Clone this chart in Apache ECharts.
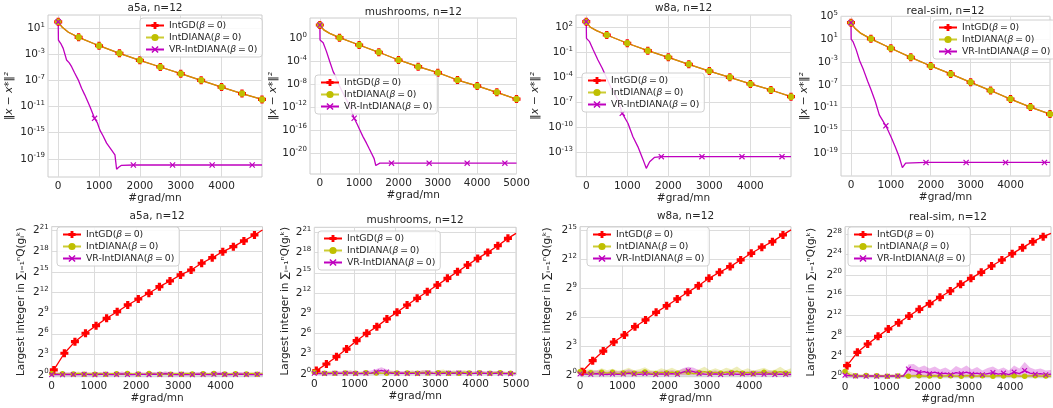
<!DOCTYPE html>
<html>
<head>
<meta charset="utf-8">
<script src="https://cdn.jsdelivr.net/npm/echarts@6/dist/echarts.min.js"></script>
<style>
html, body { margin: 0; background: #fff; }
#chart { width: 1053px; height: 408px; }
</style>
</head>
<body>
<div id="chart"></div>
<script>
var FONT = 'DejaVu Sans';
var TXT = '#262626';

var titles = ['a5a, n=12', 'mushrooms, n=12', 'w8a, n=12', 'real-sim, n=12'];
var names = ['IntGD(β=0)', 'IntDIANA(β=0)', 'VR-IntDIANA(β=0)'];
var lastX = [4990, 5000, 4990, 4990];

// ---- top row: log10 of ||x - x*||^2 (IntGD and IntDIANA overlap) ----
var topX = [0, 100, 250, 500, 1000, 1500, 2000, 2500, 3000, 3500, 4000, 4500];
var a5aErr = [2.0, 1.15, 0.4, -0.38, -1.67, -2.83, -3.9, -4.93, -5.96, -6.97, -8.0, -9.0, -9.9];
var mushErr = [2.36, 1.5, 0.9, 0.14, -1.14, -2.41, -3.76, -4.93, -5.98, -7.26, -8.3, -9.41, -10.6];
var w8aErr = [2.67, 2.0, 1.6, 1.08, 0.09, -0.8, -1.59, -2.43, -3.23, -3.98, -4.78, -5.5, -6.3];
var realErr = [3.88, 2.9, 2.0, 1.05, -0.6, -2.18, -3.7, -5.1, -6.56, -8.0, -9.5, -10.9, -12.13];

var a5aVrX = [0, 5, 60, 122, 205, 270, 328, 400, 490, 573, 650, 776, 890, 960, 1021, 1100, 1185, 1290, 1389, 1430, 1480, 1550, 1840, 2800, 3770, 4750, 4990];
var a5aVrErr = [2.0, -0.8, -1.3, -2.07, -3.86, -4.3, -4.88, -5.8, -6.9, -8.2, -9.2, -11.0, -12.8, -13.5, -14.6, -15.5, -16.6, -17.5, -18.4, -20.6, -20.3, -20.0, -19.95, -19.95, -19.95, -19.95, -19.95];
var a5aVrMarks = [0, 890, 1840, 2800, 3770, 4750];

var mushVrX = [0, 5, 85, 170, 254, 339, 400, 466, 550, 636, 700, 763, 873, 950, 1017, 1100, 1186, 1250, 1313, 1380, 1423, 1470, 1525, 1822, 2780, 3746, 4704, 5000];
var mushVrErr = [2.36, -0.26, -0.73, -2.3, -4.06, -5.8, -6.6, -7.8, -9.0, -10.2, -11.0, -11.9, -13.95, -15.0, -16.0, -17.2, -18.3, -19.2, -20.07, -21.0, -22.2, -22.0, -21.8, -21.8, -21.8, -21.8, -21.8, -21.8];
var mushVrMarks = [0, 873, 1822, 2780, 3746, 4704];

var w8aVrX = [0, 5, 81, 163, 285, 390, 488, 610, 700, 772, 878, 1016, 1138, 1260, 1382, 1463, 1545, 1667, 1829, 2820, 3795, 4771, 4990];
var w8aVrErr = [2.67, 0.68, 0.28, -0.63, -1.91, -2.9, -3.98, -5.3, -6.0, -6.7, -8.29, -9.48, -11.1, -12.3, -13.8, -14.87, -14.08, -13.55, -13.47, -13.47, -13.47, -13.47, -13.47];
var w8aVrMarks = [0, 878, 1829, 2820, 3795, 4771];

var realVrX = [0, 5, 50, 132, 215, 314, 421, 503, 610, 710, 875, 1000, 1107, 1206, 1289, 1371, 1881, 2887, 3876, 4851, 4990];
var realVrErr = [3.88, 1.0, 0.58, -0.88, -2.75, -4.38, -6.42, -7.88, -9.93, -12.26, -14.18, -16.05, -17.8, -19.55, -21.5, -20.7, -20.6, -20.6, -20.6, -20.6, -20.6];
var realVrMarks = [0, 875, 1881, 2887, 3876, 4851];

var a5aTicks = [1, -3, -7, -11, -15, -19];
var mushTicks = [0, -4, -8, -12, -16, -20];
var w8aTicks = [2, -1, -4, -7, -10, -13];
var realTicks = [5, 1, -3, -7, -11, -15, -19];

// ---- bottom row: log2 of the largest integer ----
var redX = [0, 50, 300, 550, 800, 1050, 1300, 1550, 1800, 2050, 2300, 2550, 2800, 3050, 3300, 3550, 3800, 4050, 4300, 4550, 4800];
var a5aRed = [0, 0.73, 3.16, 4.85, 6.07, 7.18, 8.25, 9.21, 10.19, 11.06, 11.89, 12.85, 13.68, 14.56, 15.28, 16.26, 17.07, 17.95, 18.68, 19.51, 20.38, 21.1];
var mushRed = [0.2, 0.5, 1.48, 2.57, 3.7, 4.94, 6.03, 7.02, 8.15, 9.14, 10.23, 11.22, 12.2, 13.19, 14.18, 15.17, 16.16, 17.14, 18.03, 19.02, 20.11, 20.85];
var w8aRed = [0.2, 0.35, 1.49, 2.49, 3.43, 4.16, 5.02, 5.72, 6.51, 7.2, 7.9, 8.59, 9.28, 10.04, 10.67, 11.26, 11.95, 12.64, 13.27, 13.85, 14.55, 15.07];
var realRed = [1.8, 2.16, 4.79, 6.43, 7.93, 9.38, 10.62, 11.93, 13.25, 14.36, 15.61, 16.85, 18.16, 19.34, 20.52, 21.77, 22.95, 24.2, 25.38, 26.56, 27.54, 28.2];

var noiseX = [0, 128, 256, 384, 512, 640, 768, 896, 1024, 1152, 1280, 1408, 1536, 1664, 1792, 1920, 2048, 2176, 2304, 2432, 2560, 2688, 2816, 2944, 3072, 3200, 3328, 3456, 3584, 3712, 3840, 3968, 4096, 4224, 4352, 4480, 4608, 4736, 4864, 4992];

var a5aDiana = [0.2, 0.12, 0.18, 0.1, 0.15, 0.22, 0.1, 0.16, 0.12, 0.2, 0.1, 0.14, 0.18, 0.1, 0.22, 0.12, 0.15, 0.1, 0.2, 0.14, 0.1, 0.18, 0.12, 0.16, 0.1, 0.2, 0.13, 0.1, 0.17, 0.12, 0.2, 0.1, 0.15, 0.12, 0.18, 0.1, 0.14, 0.2, 0.12, 0.16];
var a5aDianaHi = [0.45, 0.35, 0.4, 0.3, 0.38, 0.5, 0.3, 0.4, 0.35, 0.45, 0.3, 0.36, 0.42, 0.3, 0.5, 0.34, 0.38, 0.3, 0.46, 0.36, 0.3, 0.42, 0.34, 0.4, 0.3, 0.46, 0.35, 0.3, 0.4, 0.34, 0.46, 0.3, 0.38, 0.34, 0.42, 0.3, 0.36, 0.46, 0.34, 0.4];
var a5aVr = [0.05, 0.08, 0.04, 0.1, 0.06, 0.05, 0.12, 0.06, 0.04, 0.08, 0.1, 0.05, 0.07, 0.15, 0.06, 0.04, 0.1, 0.08, 0.05, 0.12, 0.06, 0.2, 0.08, 0.05, 0.1, 0.06, 0.04, 0.12, 0.08, 0.05, 0.1, 0.18, 0.06, 0.05, 0.08, 0.12, 0.06, 0.04, 0.1, 0.06];
var a5aVrHi = [0.3, 0.35, 0.28, 0.4, 0.32, 0.3, 0.45, 0.32, 0.28, 0.36, 0.4, 0.3, 0.34, 0.5, 0.32, 0.28, 0.4, 0.36, 0.3, 0.45, 0.32, 0.55, 0.36, 0.3, 0.4, 0.32, 0.28, 0.45, 0.36, 0.3, 0.4, 0.52, 0.32, 0.3, 0.36, 0.45, 0.32, 0.28, 0.4, 0.32];

var mushDiana = [0.25, 0.15, 0.1, 0.18, 0.12, 0.1, 0.15, 0.2, 0.1, 0.12, 0.18, 0.1, 0.15, 0.12, 0.1, 0.2, 0.14, 0.1, 0.16, 0.2, 0.12, 0.25, 0.15, 0.1, 0.2, 0.28, 0.12, 0.2, 0.1, 0.25, 0.15, 0.1, 0.18, 0.12, 0.1, 0.15, 0.2, 0.1, 0.12, 0.1];
var mushDianaHi = [0.6, 0.4, 0.3, 0.45, 0.35, 0.3, 0.4, 0.5, 0.3, 0.35, 0.45, 0.3, 0.4, 0.35, 0.3, 0.5, 0.4, 0.3, 0.42, 0.55, 0.35, 0.6, 0.42, 0.3, 0.55, 0.65, 0.35, 0.55, 0.3, 0.6, 0.42, 0.3, 0.48, 0.35, 0.3, 0.4, 0.5, 0.3, 0.35, 0.3];
var mushVr = [0.1, 0.06, 0.08, 0.05, 0.12, 0.08, 0.1, 0.15, 0.08, 0.06, 0.1, 0.12, 0.3, 0.55, 0.3, 0.1, 0.08, 0.12, 0.06, 0.1, 0.08, 0.12, 0.15, 0.08, 0.06, 0.1, 0.12, 0.08, 0.15, 0.1, 0.06, 0.08, 0.12, 0.1, 0.06, 0.1, 0.08, 0.06, 0.05, 0.06];
var mushVrHi = [0.45, 0.35, 0.4, 0.3, 0.45, 0.4, 0.42, 0.5, 0.4, 0.35, 0.42, 0.5, 0.75, 1.0, 0.7, 0.45, 0.4, 0.45, 0.35, 0.42, 0.4, 0.5, 0.55, 0.4, 0.35, 0.45, 0.5, 0.4, 0.55, 0.45, 0.35, 0.4, 0.5, 0.42, 0.35, 0.42, 0.4, 0.35, 0.3, 0.3];

var w8aDiana = [0.35, 0.2, 0.25, 0.15, 0.3, 0.2, 0.28, 0.15, 0.22, 0.3, 0.18, 0.25, 0.32, 0.2, 0.15, 0.28, 0.22, 0.3, 0.2, 0.25, 0.3, 0.15, 0.25, 0.35, 0.2, 0.28, 0.18, 0.3, 0.25, 0.4, 0.2, 0.28, 0.15, 0.25, 0.3, 0.2, 0.22, 0.35, 0.2, 0.3];
var w8aDianaHi = [0.8, 0.55, 0.6, 0.45, 0.7, 0.5, 0.65, 0.45, 0.55, 0.75, 0.5, 0.6, 0.8, 0.5, 0.45, 0.7, 0.55, 0.75, 0.5, 0.6, 0.7, 0.45, 0.6, 0.85, 0.5, 0.7, 0.5, 0.75, 0.6, 0.9, 0.5, 0.7, 0.45, 0.6, 0.75, 0.5, 0.55, 0.85, 0.5, 0.7];
var w8aVr = [0.12, 0.1, 0.08, 0.15, 0.1, 0.06, 0.12, 0.08, 0.1, 0.2, 0.1, 0.08, 0.15, 0.1, 0.06, 0.12, 0.1, 0.15, 0.08, 0.3, 0.45, 0.35, 0.15, 0.1, 0.08, 0.12, 0.06, 0.1, 0.15, 0.08, 0.1, 0.06, 0.12, 0.1, 0.08, 0.12, 0.06, 0.1, 0.08, 0.06];
var w8aVrHi = [0.5, 0.45, 0.4, 0.5, 0.42, 0.35, 0.48, 0.4, 0.42, 0.6, 0.42, 0.4, 0.5, 0.42, 0.35, 0.48, 0.42, 0.5, 0.4, 0.7, 0.85, 0.75, 0.5, 0.42, 0.4, 0.48, 0.35, 0.42, 0.5, 0.4, 0.42, 0.35, 0.48, 0.42, 0.4, 0.48, 0.35, 0.42, 0.4, 0.35];

var realDiana = [1.0, 0.35, 0.2, 0.15, 0.25, 0.1, 0.2, 0.15, 0.1, 0.2, 0.12, 0.18, 0.1, 0.15, 0.2, 0.1, 0.12, 0.18, 0.1, 0.15, 0.2, 0.12, 0.1, 0.18, 0.15, 0.1, 0.2, 0.12, 0.1, 0.18, 0.15, 0.1, 0.2, 0.12, 0.1, 0.15, 0.18, 0.1, 0.12, 0.1];
var realDianaHi = [1.6, 0.9, 0.6, 0.5, 0.6, 0.4, 0.55, 0.45, 0.4, 0.55, 0.4, 0.5, 0.4, 0.45, 0.55, 0.4, 0.42, 0.5, 0.4, 0.45, 0.55, 0.42, 0.4, 0.5, 0.45, 0.4, 0.55, 0.42, 0.4, 0.5, 0.45, 0.4, 0.55, 0.42, 0.4, 0.45, 0.5, 0.4, 0.42, 0.4];
var realVr = [0.3, 0.2, 0.15, 0.12, 0.1, 0.15, 0.1, 0.12, 0.1, 0.15, 0.12, 0.1, 1.5, 1.3, 0.8, 1.0, 0.6, 0.9, 0.5, 0.7, 0.4, 0.8, 0.6, 0.9, 0.5, 0.7, 0.4, 0.6, 0.8, 0.5, 0.7, 0.4, 0.9, 0.6, 1.2, 0.7, 0.5, 0.6, 0.4, 0.5];
var realVrHi = [0.6, 0.5, 0.4, 0.35, 0.3, 0.4, 0.3, 0.35, 0.3, 0.4, 0.35, 0.3, 2.4, 2.5, 1.8, 2.2, 1.6, 2.0, 1.4, 1.8, 1.2, 2.1, 1.6, 2.2, 1.4, 1.9, 1.2, 1.7, 2.0, 1.4, 1.8, 1.2, 2.2, 1.6, 2.9, 1.8, 1.4, 1.6, 1.2, 1.3];

var a5aQTicks = [0, 3, 6, 9, 12, 15, 18, 21];
var mushQTicks = [0, 3, 6, 9, 12, 15, 18, 21];
var w8aQTicks = [0, 3, 6, 9, 12, 15];
var realQTicks = [0, 4, 8, 12, 16, 20, 24, 28];

var xTicks = [0, 1000, 2000, 3000, 4000];
var mushXTicks = [0, 1000, 2000, 3000, 4000, 5000];

// ---- layout ----
var grids = [
  { left: 48, top: 15, width: 214, height: 162 },
  { left: 310, top: 18, width: 206.5, height: 156 },
  { left: 576, top: 15, width: 215, height: 161.7 },
  { left: 841, top: 16.3, width: 209, height: 159.7 },
  { left: 51.7, top: 226.7, width: 210.8, height: 150 },
  { left: 314.3, top: 227.3, width: 201.7, height: 147.7 },
  { left: 580, top: 226.7, width: 211, height: 150 },
  { left: 845, top: 226.7, width: 206, height: 151 }
];
var yRange = [[-21.79, 3.04], [-23.69, 3.58], [-15.87, 3.47], [-22.97, 5.0],
              [-0.25, 21.58], [-0.15, 21.75], [-0.17, 15.4], [-0.2, 29.5]];
var titleY = [8.3, 12.7, 8.3, 11, 216, 220, 216.7, 217];
var yNameGap = [33, 30, 35, 30, 25, 24, 27, 28];
var legendPos = [[140, 18], [315, 75], [582, 73], [933, 20], [57, 227], [318, 231], [587, 227], [848, 227]];

var RED = '#ff0000', YEL = '#bfbf00', MAG = '#bf00bf';
var PLUS = 'path://M3,0H7V3H10V7H7V10H3V7H0V3H3Z';
var CROSS = 'path://M0,1.4L1.4,0L5,3.6L8.6,0L10,1.4L6.4,5L10,8.6L8.6,10L5,6.4L1.4,10L0,8.6L3.6,5Z';

var topErr = [a5aErr, mushErr, w8aErr, realErr];
var vrX = [a5aVrX, mushVrX, w8aVrX, realVrX];
var vrErr = [a5aVrErr, mushVrErr, w8aVrErr, realVrErr];
var vrMarks = [a5aVrMarks, mushVrMarks, w8aVrMarks, realVrMarks];
var topTicks = [a5aTicks, mushTicks, w8aTicks, realTicks];
var botRed = [a5aRed, mushRed, w8aRed, realRed];
var botDiana = [a5aDiana, mushDiana, w8aDiana, realDiana];
var botDianaHi = [a5aDianaHi, mushDianaHi, w8aDianaHi, realDianaHi];
var botVr = [a5aVr, mushVr, w8aVr, realVr];
var botVrHi = [a5aVrHi, mushVrHi, w8aVrHi, realVrHi];
var botTicks = [a5aQTicks, mushQTicks, w8aQTicks, realQTicks];

function pts(xs, ys, isMark) {
  return xs.map(function (x, i) {
    var item = { value: [x, ys[i]] };
    if (!isMark(x, i)) item.symbol = 'none';
    return item;
  });
}

function lineSer(p, name, data, color, symbol, size, extra) {
  var s = {
    type: 'line', name: name, xAxisIndex: p, yAxisIndex: p,
    data: data, symbol: symbol, symbolSize: size, showAllSymbol: true,
    itemStyle: { color: color }, lineStyle: { color: color, width: 1.3 },
    emphasis: { disabled: true }, silent: true
  };
  for (var k in extra) s[k] = extra[k];
  return s;
}

function bandSer(p, hi, color) {
  return {
    type: 'line', name: 'band', xAxisIndex: p, yAxisIndex: p,
    data: noiseX.map(function (x, i) { return [x, hi[i]]; }),
    symbol: 'none', lineStyle: { width: 0, opacity: 0 },
    areaStyle: { color: color, opacity: 0.28 }, silent: true
  };
}

var series = [];
[0, 1, 2, 3].forEach(function (p) {
  var tx = topX.concat([lastX[p]]);
  var mk500 = function (x, i) { return x % 500 === 0 || i === tx.length - 1; };
  series.push(lineSer(p, names[0], pts(tx, topErr[p], mk500), RED, PLUS, 8, {}));
  series.push(lineSer(p, names[1], pts(tx, topErr[p], mk500), YEL, 'circle', 6.5,
    { lineStyle: { color: YEL, width: 1.3, opacity: 0.8 } }));
  var marks = vrMarks[p];
  series.push(lineSer(p, names[2], pts(vrX[p], vrErr[p], function (x) { return marks.indexOf(x) >= 0; }), MAG, CROSS, 6, {}));

  var b = p + 4;
  var rx = redX.concat([lastX[p]]);
  series.push(lineSer(b, names[0], pts(rx, botRed[p], function (x, i) { return i > 0 && i < rx.length - 1; }), RED, PLUS, 8, {}));
  var even = function (x, i) { return i % 2 === 0; };
  series.push(lineSer(b, names[1], pts(noiseX, botDiana[p], even), YEL, 'circle', 5.5, {}));
  series.push(bandSer(b, botDianaHi[p], YEL));
  series.push(lineSer(b, names[2], pts(noiseX, botVr[p], even), MAG, CROSS, 5.5, {}));
  series.push(bandSer(b, botVrHi[p], MAG));
});

var labelStyle = { color: TXT, fontSize: 10.5, fontFamily: FONT };
var supRich = {
  b: { fontSize: 10.5, fontFamily: FONT, color: TXT, lineHeight: 14 },
  s: { fontSize: 7, fontFamily: FONT, color: TXT, lineHeight: 8, verticalAlign: 'top' }
};

var xAxes = [], yAxes = [];
for (var i = 0; i < 8; i++) {
  var col = i % 4, isTop = i < 4;
  var xt = col === 1 ? mushXTicks : xTicks;
  xAxes.push({
    type: 'value', gridIndex: i, min: isTop ? -250 : 0, max: lastX[col],
    name: '#grad/mn', nameLocation: 'middle', nameGap: 16,
    nameTextStyle: labelStyle,
    axisLine: { show: false }, axisTick: { show: false, customValues: xt },
    axisLabel: { customValues: xt, margin: 4, color: TXT, fontSize: 10.5, fontFamily: FONT,
      formatter: function (v) { return String(v); } },
    splitLine: { show: true, lineStyle: { color: '#dcdcdc', width: 1 } }
  });
  var yt = isTop ? topTicks[col] : botTicks[col];
  yAxes.push({
    type: 'value', gridIndex: i, min: yRange[i][0], max: yRange[i][1],
    name: isTop ? '‖x − x*‖²' : 'Largest integer in ∑ᵢ₌₁ⁿQ(gᵢᵏ)',
    nameLocation: 'middle', nameGap: yNameGap[i],
    nameTextStyle: { color: TXT, fontSize: 10.5, fontFamily: FONT, fontStyle: isTop ? 'italic' : 'normal' },
    axisLine: { show: false }, axisTick: { show: false, customValues: yt },
    axisLabel: {
      customValues: yt, margin: 3,
      formatter: (function (base) {
        return function (v) { return '{b|' + base + '}{s|' + v + '}'; };
      })(isTop ? '10' : '2'),
      rich: supRich
    },
    splitLine: { show: true, lineStyle: { color: '#dcdcdc', width: 1 } }
  });
}

var legends = legendPos.map(function (pos) {
  return {
    left: pos[0], top: pos[1], orient: 'vertical', data: names,
    selectedMode: false, itemWidth: 18, itemHeight: 9, itemGap: 3,
    padding: [3, 5], backgroundColor: 'rgba(255,255,255,0.85)',
    borderColor: '#d0d0d0', borderWidth: 1, borderRadius: 3,
    textStyle: { color: TXT, fontSize: 9.3, fontFamily: FONT,
      rich: { i: { fontStyle: 'italic', fontSize: 9.3, fontFamily: FONT, color: TXT } } },
    formatter: function (n) { return n.replace('β=0', '{i|β}\u2009=\u20090'); }
  };
});

var graphics = grids.map(function (g, i) {
  return {
    type: 'text', silent: true,
    style: {
      text: titles[i % 4], x: g.left + g.width / 2, y: titleY[i],
      align: 'center', verticalAlign: 'middle',
      fontSize: 10.5, fontFamily: FONT, fill: TXT
    }
  };
});

var option = {
  animation: false,
  backgroundColor: '#fff',
  grid: grids.map(function (g) {
    return { left: g.left, top: g.top, width: g.width, height: g.height,
      show: true, borderColor: '#cccccc', borderWidth: 1, containLabel: false };
  }),
  xAxis: xAxes,
  yAxis: yAxes,
  legend: legends,
  graphic: graphics,
  series: series
};

var myChart = echarts.init(document.getElementById('chart'));
myChart.setOption(option);
</script>
</body>
</html>
